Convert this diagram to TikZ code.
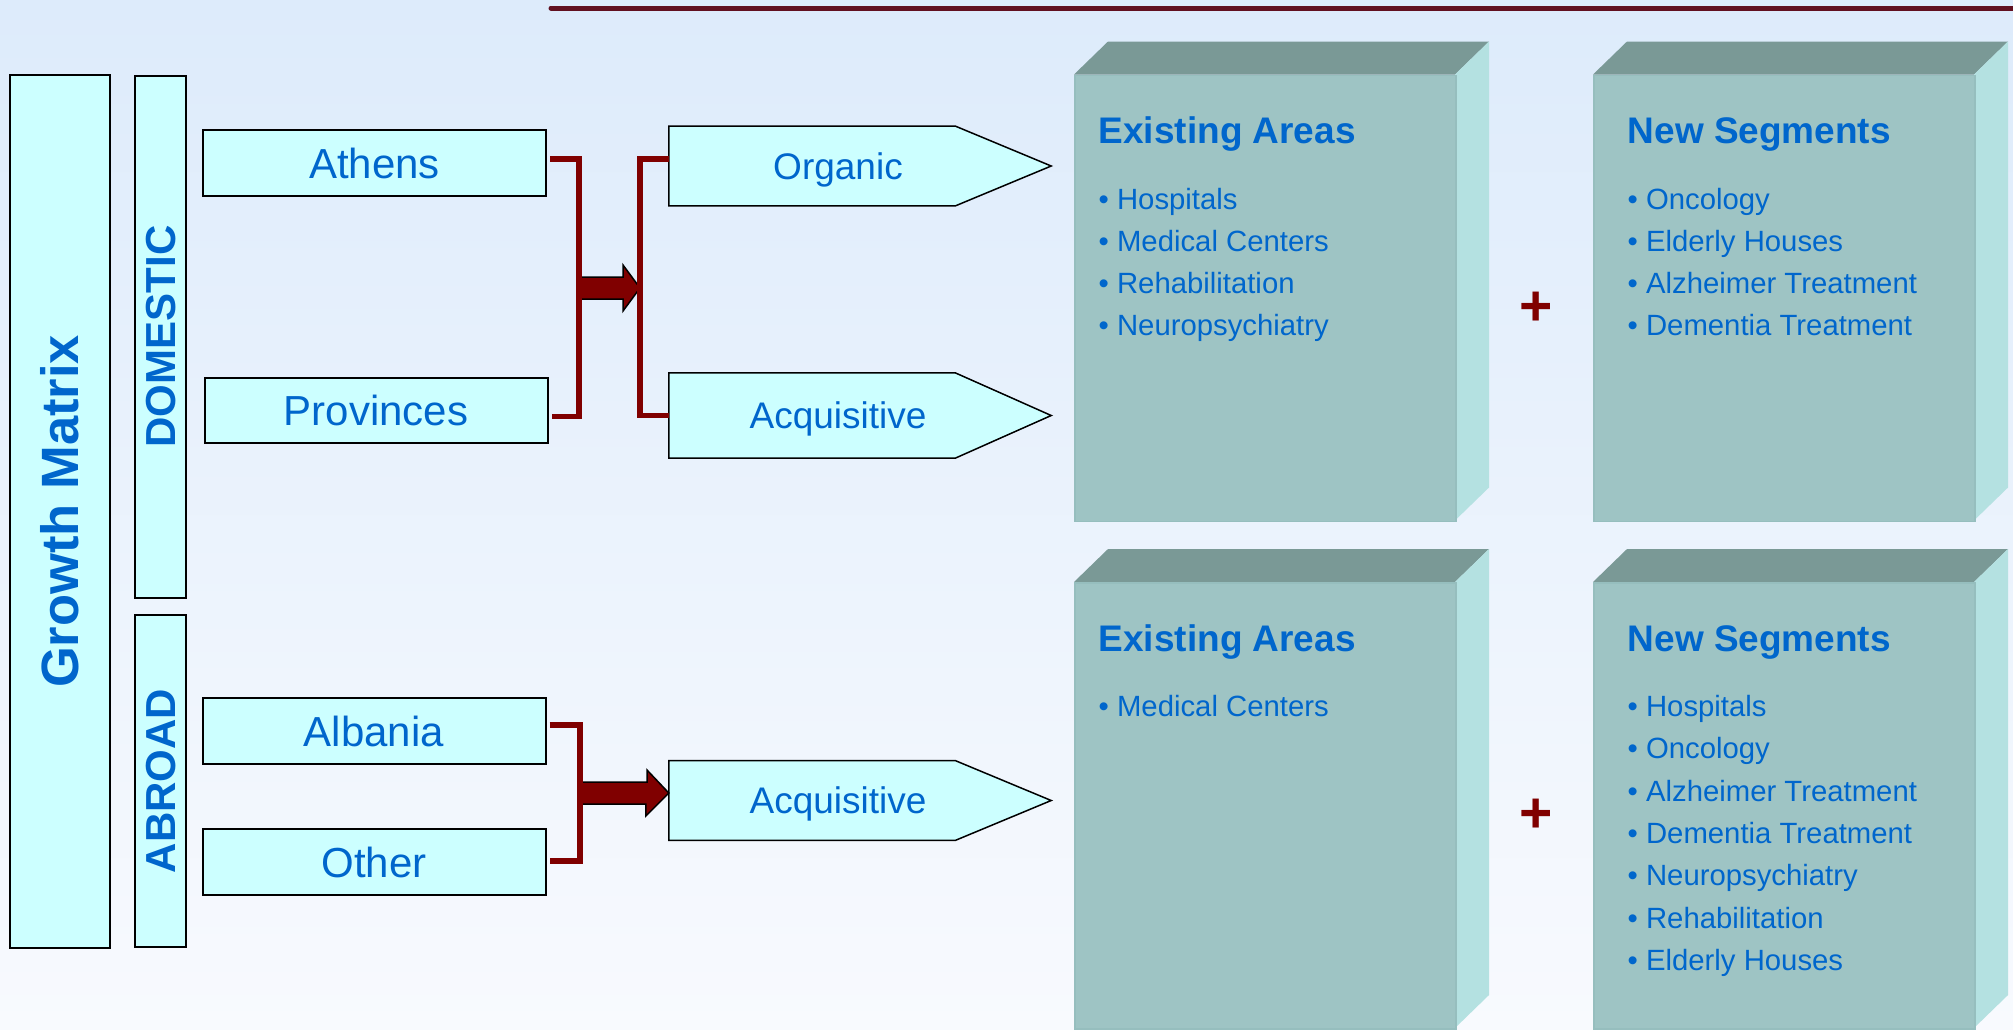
\documentclass[tikz,border=0pt]{standalone}
\usepackage{fontspec}
\setmainfont{Liberation Sans}
\definecolor{boxcyan}{RGB}{204,255,255}
\definecolor{txtblue}{RGB}{0,102,204}
\definecolor{bracketred}{RGB}{128,0,0}
\definecolor{ruledark}{RGB}{96,16,32}
\definecolor{bgtop}{RGB}{221,235,251}
\definecolor{bgbot}{RGB}{248,250,254}
\definecolor{cubefrontcol}{RGB}{158,196,196}
\definecolor{cubeedge}{RGB}{150,190,190}
\definecolor{cubetopcol}{RGB}{122,153,150}
\definecolor{cubesidecol}{RGB}{180,225,225}
\begin{document}
\begin{tikzpicture}[x=1pt, y=-1pt,
    sidebox/.style={draw, line width=2pt, fill=boxcyan, text=txtblue, inner sep=0pt,
      rotate=90, text height=30pt, text depth=0pt, font=\bfseries\fontsize{42pt}{50pt}\selectfont},
    placebox/.style={draw, line width=2pt, fill=boxcyan, text=txtblue, inner sep=0pt,
      minimum width=343pt, minimum height=65.5pt, text height=30pt, text depth=0pt,
      font=\fontsize{42pt}{50pt}\selectfont},
    tipbody/.style={inner sep=0pt, minimum width=286pt},
    tipbox/.style={draw, line width=1.5pt, fill=boxcyan},
    tiplabel/.style={text=txtblue, inner sep=0pt, text height=26.5pt, text depth=0pt,
      font=\fontsize{37pt}{44pt}\selectfont},
    bracket/.style={draw=bracketred, line width=5.5pt},
    fatarrow/.style={draw=black, line width=1.5pt, fill=bracketred},
    cubefront/.style={fill=cubefrontcol, draw=cubeedge, line width=1.5pt, inner sep=0pt,
      minimum width=381pt, minimum height=446pt, anchor=north west},
    cubetop/.style={fill=cubetopcol},
    cubeside/.style={fill=cubesidecol},
    cubetitle/.style={anchor=base west, inner sep=0pt, text=txtblue,
      font=\bfseries\fontsize{37pt}{44pt}\selectfont},
    cubeitem/.style={anchor=base west, inner sep=0pt, text=txtblue,
      font=\fontsize{29.3pt}{36pt}\selectfont},
    plussign/.style={inner sep=0pt, text=bracketred, font=\bfseries\fontsize{57pt}{60pt}\selectfont}
  ]
  % background
  \useasboundingbox (0,0) rectangle (2013,1029);
  \shade[top color=bgtop, bottom color=bgbot] (0,0) rectangle (2013,1029);
  \draw[ruledark, line width=5pt, line cap=round] (551,8) -- (2030,8);

  % left column
  \node[sidebox, minimum width=873pt, minimum height=100pt, text height=37.6pt,
    font=\bfseries\fontsize{52.5pt}{60pt}\selectfont] (growth) at (60,511.5) {Growth Matrix};
  \node[sidebox, minimum width=522pt, minimum height=51.5pt] (domestic) at (160.3,336.5) {DOMESTIC};
  \node[sidebox, minimum width=332pt, minimum height=51.5pt] (abroad) at (160.3,781) {ABROAD};

  \node[placebox] (athens) at (374.5,163) {Athens};
  \node[placebox] (provinces) at (376,410.3) {Provinces};
  \node[placebox] (albania) at (374,731) {Albania};
  \node[placebox] (other) at (374,862) {Other};

  % growth paths
  \foreach \nm/\cy/\hgt/\txt in {organic/166/79.5/Organic, acqtop/415.5/85/Acquisitive, acqbot/800.5/79.5/Acquisitive} {
    \node[tipbody, minimum height=\hgt pt] (\nm) at (812,\cy) {};
    \draw[tipbox] (\nm.north west) -- (\nm.north east) -- ([xshift=96pt]\nm.east)
      -- (\nm.south east) -- (\nm.south west) -- cycle;
    \node[tiplabel] (\nm-text) at ([xshift=26pt]\nm.center) {\txt};
  }

  % domestic brackets
  \coordinate (splitA) at (579,288);
  \coordinate (joinA) at (640,288);
  \draw[fatarrow] (splitA) ++(0,-11) -- ++(44,0) -- ++(0,-12) -- (joinA) -- ++(-17,23)
    -- ++(0,-12) -- ++(-44,0) -- cycle;
  \draw[bracket] ([xshift=3pt,yshift=4pt]athens.east) -| (splitA) |- ([xshift=3pt,yshift=-6pt]provinces.east);
  \draw[bracket] ([yshift=7pt]organic.west) -| (joinA) |- (acqtop.west);

  % abroad bracket
  \coordinate (splitB) at (580,793);
  \coordinate (joinB) at ([yshift=7.5pt]acqbot.west);
  \draw[fatarrow] (splitB) ++(0,-11) -- ++(67,0) -- ++(0,-12) -- (joinB) -- ++(-23,23)
    -- ++(0,-12) -- ++(-67,0) -- cycle;
  \draw[bracket] ([xshift=3pt,yshift=6pt]albania.east) -| (splitB) |- ([xshift=3pt,yshift=1pt]other.east);

  % segment blocks
  \foreach \nm/\cx/\cy in {exA/1074/74.5, nsA/1593/74.5, exB/1074/582, nsB/1593/582} {
    \fill[cubetop] (\cx,\cy) -- ++(34,-33) -- ++(381,0) -- ++(-34,33) -- cycle;
    \fill[cubeside] ({\cx+381},\cy) -- ++(34,-33) -- ++(0,446) -- ++(-34,33) -- cycle;
    \node[cubefront] (\nm) at (\cx,\cy) {};
  }
  \node[cubetitle] (exAtitle) at ([shift={(24.5,69)}]exA.north west) {Existing Areas};
  \node[cubetitle] (nsAtitle) at ([shift={(34.5,69)}]nsA.north west) {New Segments};
  \node[cubetitle] (exBtitle) at ([shift={(24.5,69)}]exB.north west) {Existing Areas};
  \node[cubetitle] (nsBtitle) at ([shift={(34.5,69)}]nsB.north west) {New Segments};

  \foreach \txt [count=\i from 0] in {Hospitals, Medical Centers, Rehabilitation, Neuropsychiatry}
    \node[cubeitem] (exAitem\i) at ([shift={(24.5,{134.5+42.3*\i})}]exA.north west) {\textbullet\ \txt};
  \foreach \txt [count=\i from 0] in {Oncology, Elderly Houses, Alzheimer Treatment, Dementia Treatment}
    \node[cubeitem] (nsAitem\i) at ([shift={(34.5,{134.5+42.3*\i})}]nsA.north west) {\textbullet\ \txt};
  \node[cubeitem] (exBitem0) at ([shift={(24.5,134.5)}]exB.north west) {\textbullet\ Medical Centers};
  \foreach \txt [count=\i from 0] in {Hospitals, Oncology, Alzheimer Treatment, Dementia Treatment,
      Neuropsychiatry, Rehabilitation, Elderly Houses}
    \node[cubeitem] (nsBitem\i) at ([shift={(34.5,{134.5+42.3*\i})}]nsB.north west) {\textbullet\ \txt};

  \node[plussign] (plusA) at (1536,309) {+};
  \node[plussign] (plusB) at (1536,815.5) {+};
\end{tikzpicture}
\end{document}
